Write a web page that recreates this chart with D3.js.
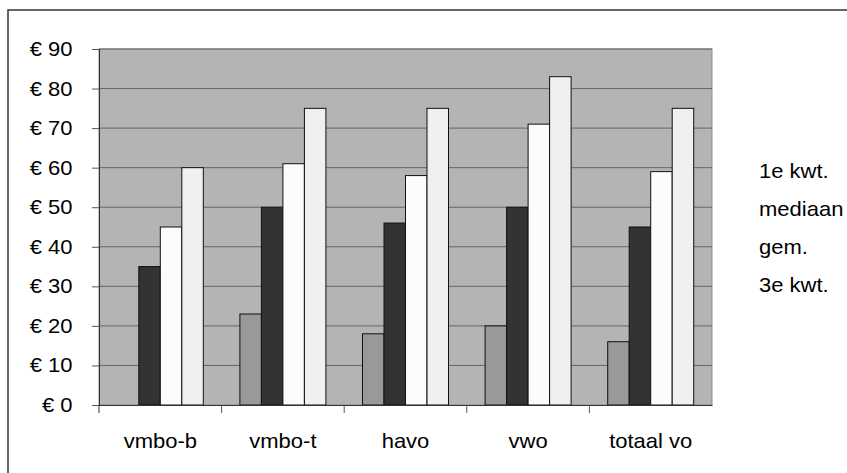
<script src="https://d3js.org/d3.v7.min.js"></script>

<svg id="vis"></svg>

<script>
  // Data
  var categories = ['vmbo-b', 'vmbo-t', 'havo', 'vwo', 'totaal vo'];
  var seriesNames = ['1e kwt.', 'mediaan', 'gem.', '3e kwt.'];
  var kwt1 = [null, 23, 18, 20, 16];
  var mediaan = [35, 50, 46, 50, 45];
  var gem = [45, 61, 58, 71, 59];
  var kwt3 = [60, 75, 75, 83, 75];
  var yTicks = [0, 10, 20, 30, 40, 50, 60, 70, 80, 90];
  var colors = ['#999999', '#333333', '#fcfcfc', '#f0f0f0'];

  var series = [kwt1, mediaan, gem, kwt3];

  var width = 847, height = 473;
  // plot area (note: "top" is a reserved window global, so use plot* names)
  var plotLeft = 99, plotRight = 712, plotTop = 49, plotBottom = 405;
  var font = 'Liberation Sans, Arial, sans-serif';
  var stretch = 1.1;

  var svg = d3.select('#vis')
      .attr('width', width)
      .attr('height', height)
      .style('position', 'absolute')
      .style('left', 0)
      .style('top', 0);
  d3.select('body').style('margin', 0).style('background', '#fff');

  // outer frame (cut off at right and bottom)
  svg.append('rect')
      .attr('x', 8).attr('y', 10)
      .attr('width', width + 20).attr('height', height + 20)
      .attr('fill', 'none')
      .attr('stroke', '#333')
      .attr('stroke-width', 1.5);

  var x = d3.scaleBand().domain(categories).range([plotLeft, plotRight]);
  var gap = 18.3;
  var xs = d3.scaleBand().domain(d3.range(series.length))
      .range([gap, x.bandwidth() - gap]);
  var y = d3.scaleLinear().domain([0, 90]).range([plotBottom, plotTop]);

  // plot background
  svg.append('rect')
      .attr('x', plotLeft).attr('y', plotTop)
      .attr('width', plotRight - plotLeft).attr('height', plotBottom - plotTop)
      .attr('fill', '#b4b4b4')
      .attr('stroke', '#8a8a8a')
      .attr('stroke-width', 1);

  // gridlines
  svg.selectAll('line.grid')
      .data(yTicks.slice(1))
      .enter().append('line')
      .attr('class', 'grid')
      .attr('x1', plotLeft).attr('x2', plotRight)
      .attr('y1', function(d) { return y(d); })
      .attr('y2', function(d) { return y(d); })
      .attr('stroke', '#666')
      .attr('stroke-width', 1);

  // bars
  series.forEach(function(vals, si) {
    svg.selectAll('rect.s' + si)
        .data(vals.map(function(v, i) { return {cat: categories[i], v: v}; })
                  .filter(function(d) { return d.v != null; }))
        .enter().append('rect')
        .attr('class', 's' + si)
        .attr('x', function(d) { return x(d.cat) + xs(si); })
        .attr('y', function(d) { return y(d.v); })
        .attr('width', xs.bandwidth())
        .attr('height', function(d) { return y(0) - y(d.v); })
        .attr('fill', colors[si])
        .attr('stroke', '#111')
        .attr('stroke-width', 1);
  });

  // y axis
  var yAxis = svg.append('g')
      .attr('transform', 'translate(' + plotLeft + ',0)')
      .call(d3.axisLeft(y).tickValues(yTicks).tickSize(7).tickFormat(function(d) { return '€ ' + d; }));
  yAxis.select('.domain').attr('stroke', '#333');
  yAxis.selectAll('.tick line').attr('stroke', '#555');
  yAxis.selectAll('.tick text')
      .attr('x', 0).attr('dy', null).attr('y', 0)
      .attr('transform', 'translate(-26.5,6.5) scale(' + stretch + ',1)')
      .attr('font-family', font)
      .attr('font-size', 20)
      .attr('fill', '#000');

  // x axis
  var xAxis = svg.append('g')
      .attr('transform', 'translate(0,' + plotBottom + ')')
      .call(d3.axisBottom(x).tickSize(0).tickPadding(0));
  xAxis.select('.domain').attr('stroke', '#333');
  xAxis.selectAll('.tick text')
      .attr('y', 0).attr('dy', null)
      .attr('transform', 'translate(0,42.5) scale(' + stretch + ',1)')
      .attr('font-family', font)
      .attr('font-size', 20)
      .attr('fill', '#000');
  // category separators
  svg.selectAll('line.sep')
      .data(categories.slice(1))
      .enter().append('line')
      .attr('class', 'sep')
      .attr('x1', function(d) { return x(d); })
      .attr('x2', function(d) { return x(d); })
      .attr('y1', plotBottom).attr('y2', plotBottom + 8)
      .attr('stroke', '#555');
  svg.append('line')
      .attr('x1', plotLeft).attr('x2', plotLeft)
      .attr('y1', plotBottom).attr('y2', plotBottom + 8)
      .attr('stroke', '#333');

  // legend (text only)
  svg.selectAll('text.legend')
      .data(seriesNames)
      .enter().append('text')
      .attr('class', 'legend')
      .attr('transform', function(d, i) { return 'translate(759,' + (178 + i * 38) + ') scale(' + stretch + ',1)'; })
      .attr('font-family', font)
      .attr('font-size', 20)
      .attr('fill', '#000')
      .text(function(d) { return d; });
</script>
